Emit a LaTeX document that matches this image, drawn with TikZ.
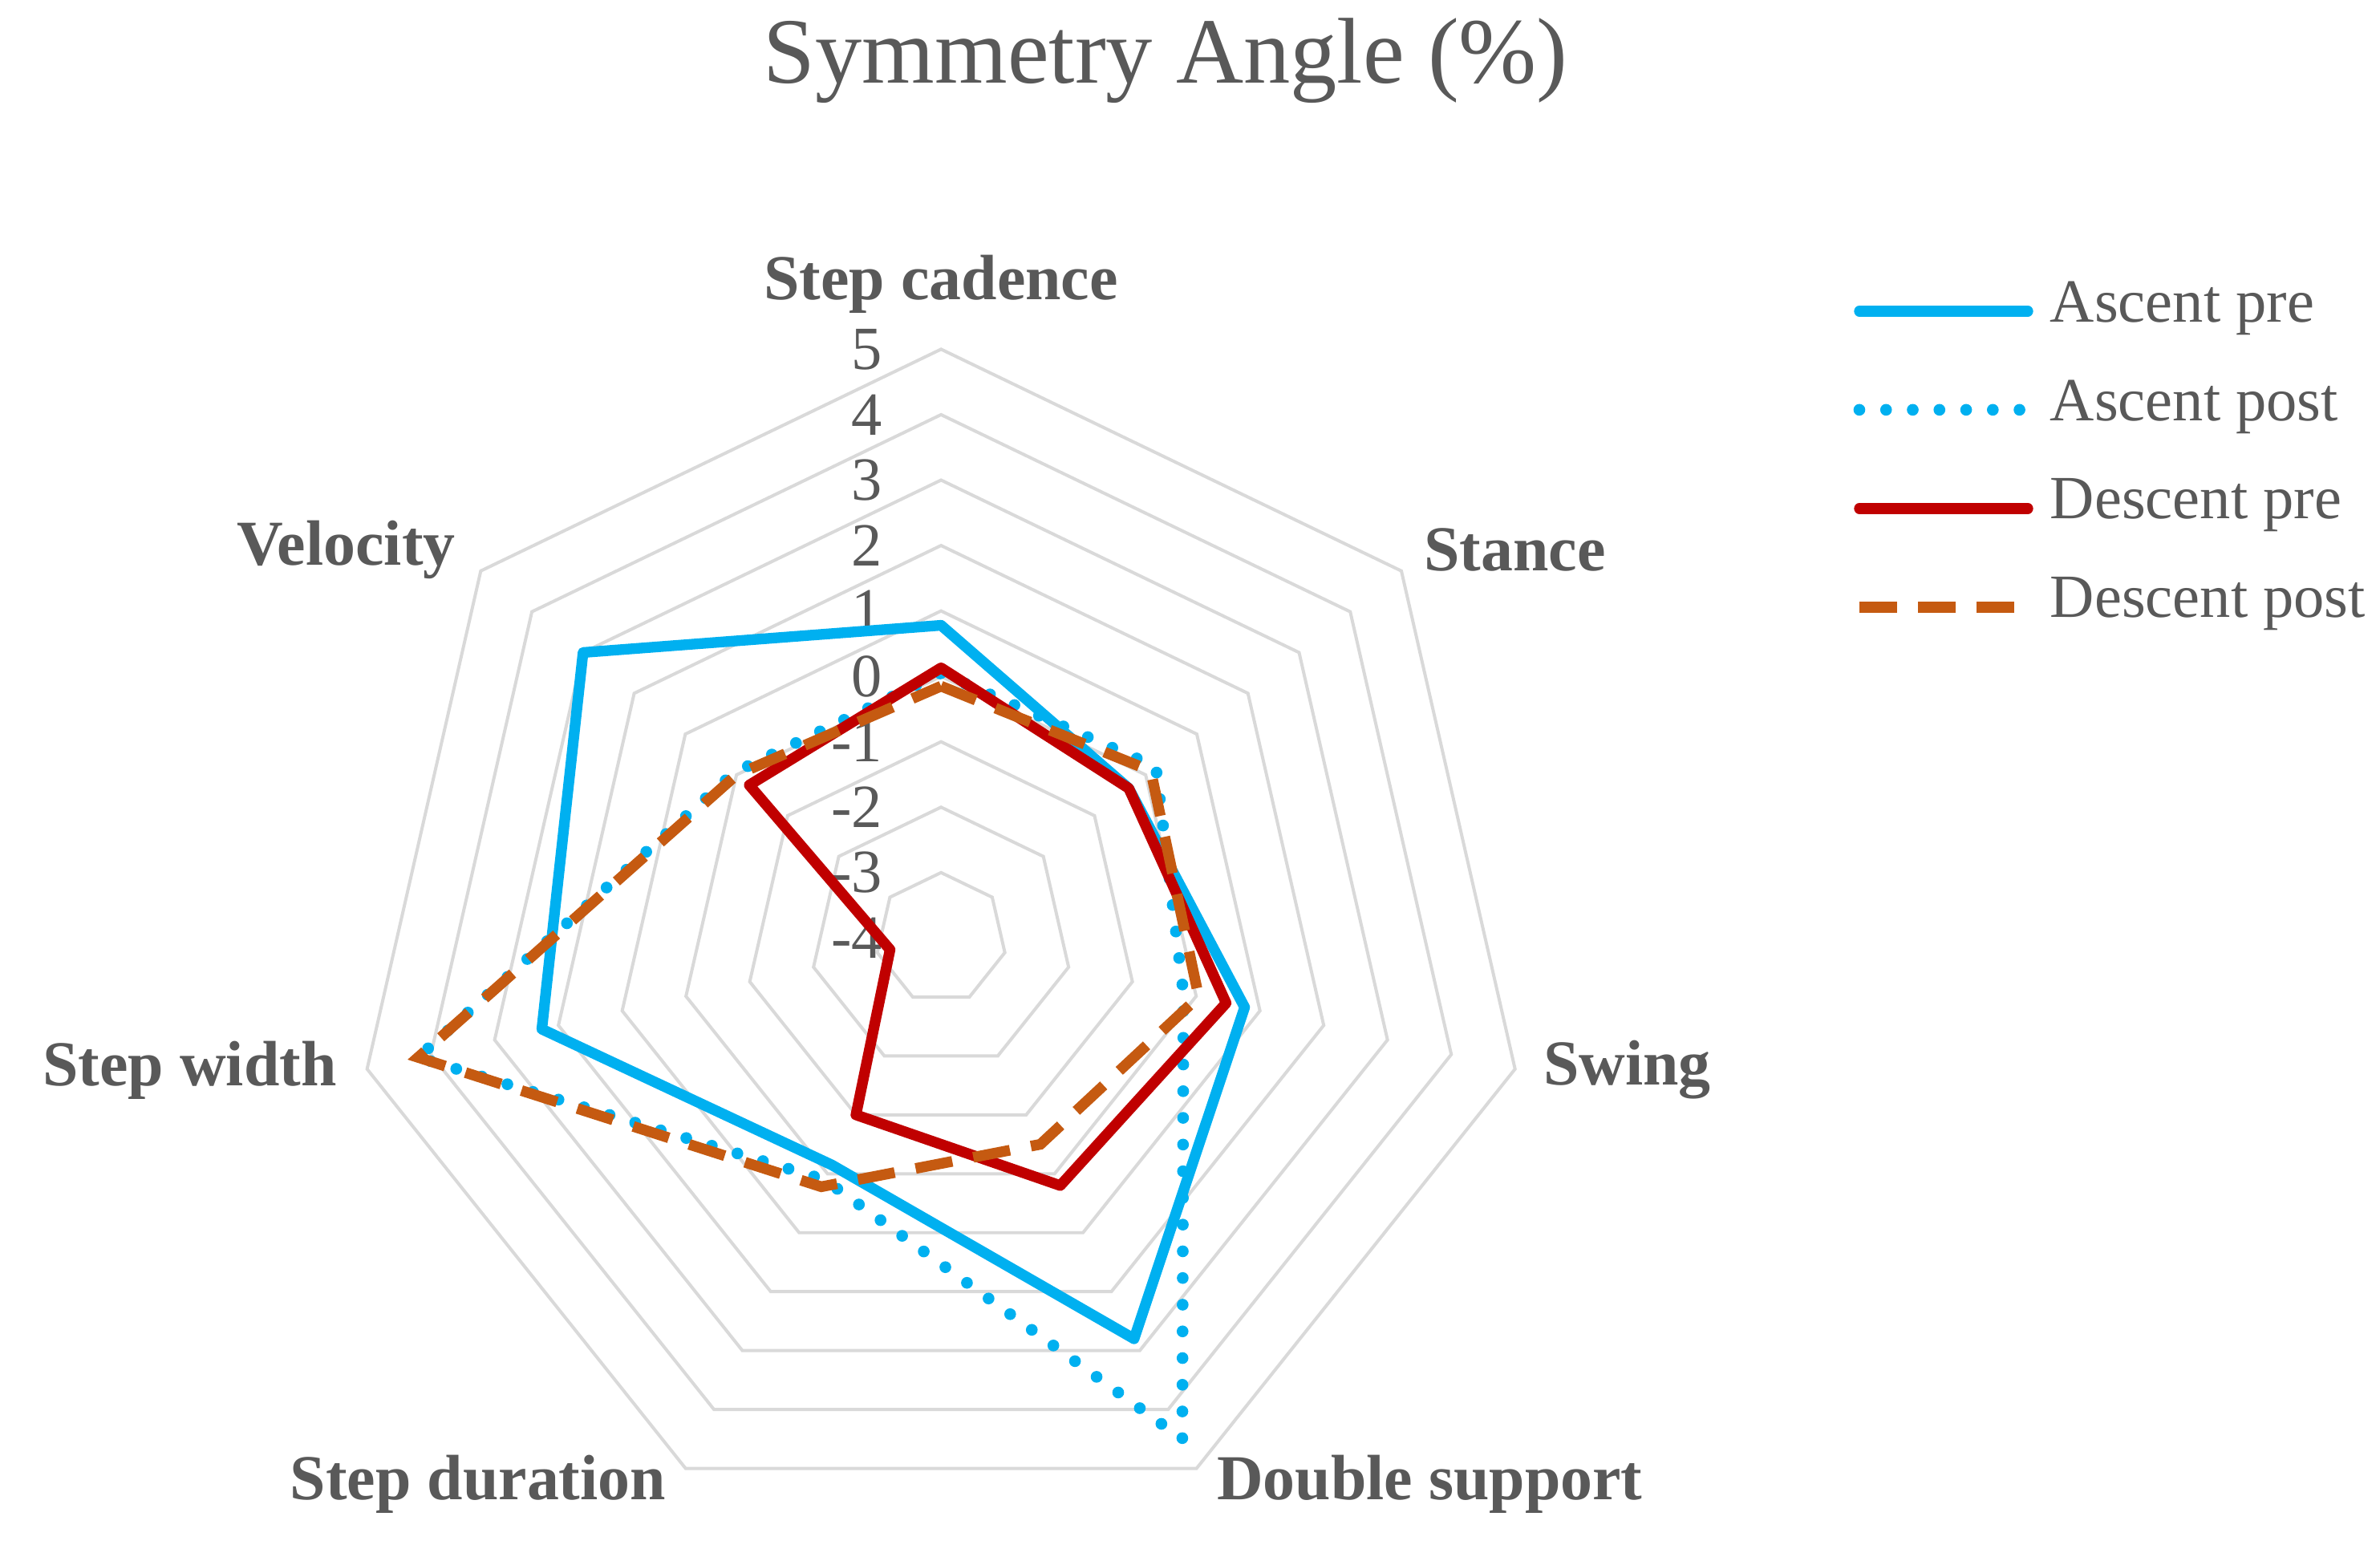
\documentclass[tikz,border=0pt]{standalone}
\usepackage{fontspec}
\setmainfont{Liberation Serif}
\definecolor{ablue}{HTML}{00B0F0}
\definecolor{dred}{HTML}{C00000}
\definecolor{dbrown}{HTML}{C55A11}
\definecolor{gridc}{HTML}{D9D9D9}
\definecolor{txt}{HTML}{595959}
\begin{document}
\begin{tikzpicture}[x=0.01cm,y=0.01cm,
  ap/.style={ablue,line width=2pt,line join=round},
  apo/.style={ablue,line width=2.2pt,line cap=round,dash pattern=on 0pt off 5pt},
  dp/.style={dred,line width=2pt,line join=round},
  dpo/.style={dbrown,line width=2pt,dash pattern=on 7pt off 4pt},
  axl/.style={font=\fontsize{12}{14}\selectfont\bfseries,text=txt},
  tick/.style={font=\fontsize{11.5}{13}\selectfont,text=txt,anchor=east,inner sep=0pt},
  leg/.style={font=\fontsize{11.5}{13}\selectfont,text=txt,anchor=west,inner sep=0pt}]
\useasboundingbox (0,0) rectangle (1568,-1028);
\node[font=\fontsize{17.5}{20}\selectfont,text=txt] (title) at (768,-40) {Symmetry Angle (\%)};
\begin{scope}[shift={(620,-618)}]
  \foreach \k in {1,...,9}{
    \draw[gridc,line width=0.6pt] (90:\k*43.1) \foreach \j in {1,...,6}{ -- ({90-\j*360/7}:\k*43.1)} -- cycle;
  }
  \foreach \v [count=\i from 0] in {-4,-3,-2,-1,0,1,2,3,4,5}{
    \node[tick] (t\i) at (-38,{\i*43.1}) {\v};
  }
  \newcommand\radarpts[2]{%
    \foreach \v [count=\i from 0] in {#2}{
      \coordinate (#1\i) at ({90-\i*360/7}:{(\v+4)*43.1});
    }}
  \radarpts{a}{0.78,-0.33,0.76,2.8,-0.15,2.26,3.0}
  \radarpts{b}{0.05,0.2,-0.2,4.5,0.1,4.2,0.05}
  \radarpts{c}{0.13,-0.33,0.47,0.2,-1.0,-3.2,-0.25}
  \radarpts{d}{-0.15,0.1,0.04,-0.5,0.22,4.2,0.0}
  \draw[ap] (a0)--(a1)--(a2)--(a3)--(a4)--(a5)--(a6)--cycle;
  \draw[apo] (b0)--(b1)--(b2)--(b3)--(b4)--(b5)--(b6)--cycle;
  \draw[dp] (c0)--(c1)--(c2)--(c3)--(c4)--(c5)--(c6)--cycle;
  \draw[dpo] (d0)--(d1)--(d2)--(d3)--(d4)--(d5)--(d6)--cycle;
\end{scope}
\node[axl] (l0) at (620,-187) {Step cadence};
\node[axl] (l1) at (998,-362) {Stance};
\node[axl] (l2) at (1072,-705) {Swing};
\node[axl] (l3) at (942,-978) {Double support};
\node[axl] (l4) at (315,-978) {Step duration};
\node[axl] (l5) at (125,-705) {Step width};
\node[axl] (l6) at (228,-362) {Velocity};
\coordinate (g1a) at (1225,-205); \coordinate (g1b) at (1336,-205);
\coordinate (g2a) at (1225,-270); \coordinate (g2b) at (1336,-270);
\coordinate (g3a) at (1225,-335); \coordinate (g3b) at (1336,-335);
\coordinate (g4a) at (1225,-400); \coordinate (g4b) at (1336,-400);
\draw[ap,line cap=round] (g1a)--(g1b);
\draw[apo] (g2a)--(g2b);
\draw[dp,line cap=round] (g3a)--(g3b);
\draw[dpo] (g4a)--(g4b);
\node[leg] (e1) at (1350,-203) {Ascent pre};
\node[leg] (e2) at (1350,-268) {Ascent post};
\node[leg] (e3) at (1350,-333) {Descent pre};
\node[leg] (e4) at (1350,-398) {Descent post};
\end{tikzpicture}
\end{document}
